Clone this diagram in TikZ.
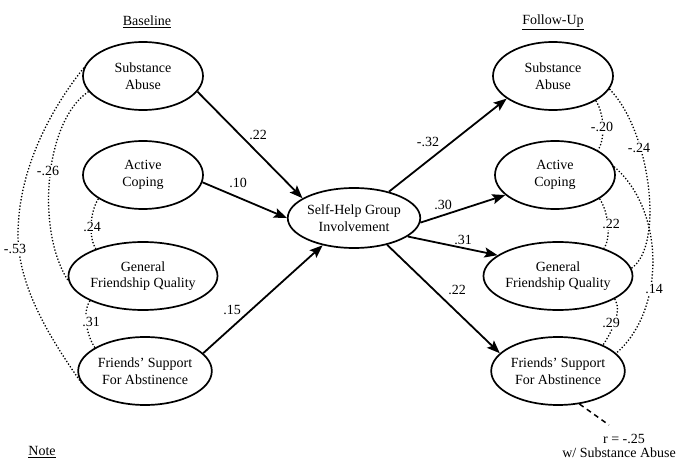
\documentclass[tikz,border=0pt]{standalone}
\usepackage{fontspec}
\setmainfont{Liberation Serif}
\usetikzlibrary{shapes.geometric,arrows.meta}
\begin{document}
\begin{tikzpicture}[x=1pt,y=-1pt,
  var/.style={ellipse,draw,line width=1.7pt,minimum width=120pt,minimum height=68pt,inner sep=0pt,align=center,font=\fontsize{14}{16.5}\selectfont},
  midvar/.style={var,minimum width=118pt,minimum height=60pt},
  arr/.style={line width=1.8pt,-{Stealth[length=13pt,width=10pt,inset=2.5pt]}},
  corr/.style={line width=1.3pt,dash pattern=on 1.3pt off 1.9pt},
  dashline/.style={line width=1.5pt,dash pattern=on 5pt off 4pt},
  lbl/.style={font=\fontsize{14}{16}\selectfont,inner sep=1pt},
  clbl/.style={lbl,fill=white},
]
\useasboundingbox (0,0) rectangle (681,460);

% headings
\node[lbl] (hb) at (147,22) {\underline{Baseline}};
\node[lbl] (hf) at (553,22) {\underline{Follow-Up}};
\node[lbl] (hn) at (42,452) {\underline{Note}};

% variables
\node[var] (lsa) at (143,76) {Substance\\Abuse};
\node[var] (lac) at (143,175) {Active\\Coping};
\node[var] (lgfq) at (143,276) {General\\Friendship Quality};
\node[var] (lfs) at (145,371) {Friends’ Support\\For Abstinence};
\node[midvar] (mid) at (354,218) {Self-Help Group\\Involvement};
\node[var] (rsa) at (553,76) {Substance\\Abuse};
\node[var] (rac) at (555,175) {Active\\Coping};
\node[var] (rgfq) at (558,276) {General\\Friendship Quality};
\node[var] (rfs) at (558,371) {Friends’ Support\\For Abstinence};

% paths
\draw[arr] (lsa.344) -- (mid.159);
\draw[arr] (lac.353) -- (mid.180);
\draw[arr] (lfs.17) -- (mid.221);
\draw[arr] (mid.37) -- (rsa.206);
\draw[arr] (mid.356) -- (rac.202);
\draw[arr] (mid.341) -- (rgfq.161);
\draw[arr] (mid.321) -- (rfs.163);

\node[lbl] (p1) at (258,135) {.22};
\node[lbl] (p2) at (238,183) {.10};
\node[lbl] (p3) at (232,310) {.15};
\node[lbl] (p4) at (428,142) {-.32};
\node[lbl] (p5) at (443,205) {.30};
\node[lbl] (p6) at (463,240) {.31};
\node[lbl] (p7) at (457,290) {.22};

% correlations, baseline
\draw[corr] (lsa.172) .. controls (50,110) and (18,170) .. (18,235)
   .. controls (18,290) and (55,345) .. (lfs.191);
\draw[corr] (lsa.196) .. controls (45,120) and (35,230) .. (lgfq.184);
\draw[corr] (lac.208) .. controls +(-8,12) and +(-8,-12) .. (lgfq.150);
\draw[corr] (lgfq.205) .. controls +(-8,12) and +(-8,-12) .. (lfs.155);

% correlations, follow-up
\draw[corr] (rsa.330) .. controls +(8,12) and +(8,-12) .. (rac.30);
\draw[corr] (rac.332) .. controls +(8,12) and +(8,-12) .. (rgfq.31);
\draw[corr] (rgfq.338) .. controls +(8,12) and +(8,-12) .. (rfs.30);
\draw[corr] (rsa.347) .. controls (650,130) and (665,245) .. (rgfq.6);
\draw[corr] (rac.8) .. controls (665,210) and (666,310) .. (rfs.17);

\node[clbl] (c1) at (15,249) {-.53};
\node[clbl] (c2) at (48,171) {-.26};
\node[clbl] (c3) at (92,227) {.24};
\node[clbl] (c4) at (91,322) {.31};
\node[clbl] (c5) at (602,127) {-.20};
\node[clbl] (c6) at (639,148) {-.24};
\node[clbl] (c7) at (611,224) {.22};
\node[clbl] (c8) at (654,289) {.14};
\node[clbl] (c9) at (611,323) {.29};

% note
\coordinate (rdash) at (609,425);
\draw[dashline] (rfs.303) -- (rdash);
\node[lbl] (rr) at (624,439) {r = -.25};
\node[lbl,anchor=east] (rw) at (677,453) {w/ Substance Abuse};
\end{tikzpicture}
\end{document}
